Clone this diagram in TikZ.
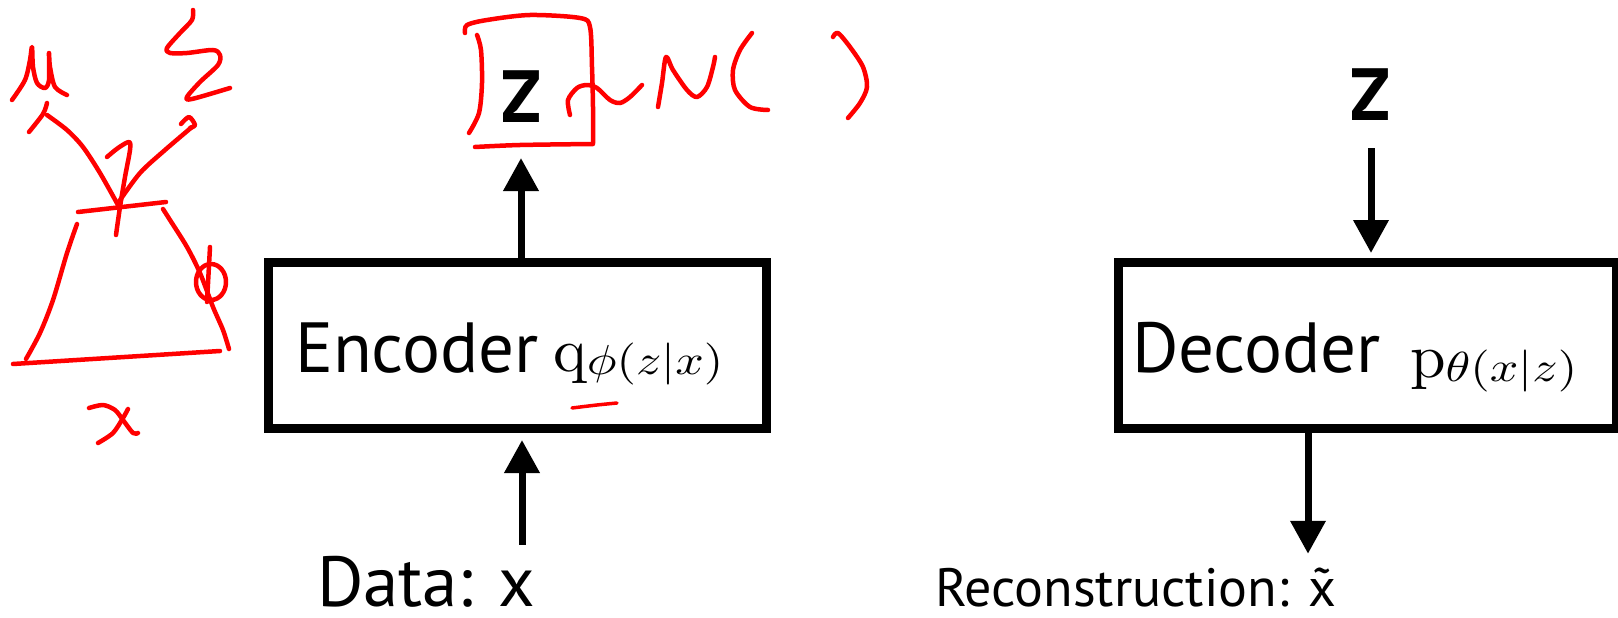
\documentclass[tikz,border=0pt]{standalone}
\usepackage{fontspec}
\setsansfont{PT Sans}
\usepackage{graphicx}
\usetikzlibrary{arrows.meta}
% x with a tilde placed over it
\newcommand\tildex{{\ooalign{x\cr\hidewidth\char"02DC\hidewidth\cr}}}
\begin{document}
\begin{tikzpicture}[x=1pt,y=-1pt,
  box/.style={draw=black, line width=9pt, minimum width=498pt, minimum height=166pt, inner sep=0pt, outer sep=0pt},
  word/.style={inner sep=0pt, outer sep=0pt, font=\sffamily\fontsize{71}{80}\selectfont},
  smallword/.style={inner sep=0pt, outer sep=0pt, font=\sffamily\fontsize{54}{60}\selectfont},
  zlab/.style={inner sep=0pt, outer sep=0pt, font=\sffamily\bfseries\fontsize{74}{80}\selectfont},
  mathlab/.style={inner sep=0pt, outer sep=0pt},
  arr/.style={line width=7pt, -{Triangle[width=34pt,length=33pt]}},
  ink/.style={draw=red, line width=4.5pt, line cap=round, line join=round},
]
\useasboundingbox (0,0) rectangle (1618,618);
\clip (0,0) rectangle (1618,618);
\fill[white] (0,0) rectangle (1618,618);

% ---------- encoder ----------
\node[box] (enc) at (517,345) {};
\node[word, anchor=base west] (enctxt) at (295,372) {Encoder};
\node[mathlab, anchor=base west] (encq) at (553,371)
  {\scalebox{6.4}[6.2]{$\mathrm{q}$}\raisebox{-3.5pt}{\scalebox{5.0}[4.2]{$\phi(z|x)$}}};
\node[zlab, anchor=base] (zE) at (521,122) {Z};
\node[word, anchor=base west] (data) at (317,606) {Data: x};
\coordinate (inx) at (522,0);
\coordinate (upx) at (521,0);
\draw[arr, shorten <=11pt, shorten >=12pt] (data.north -| inx) -- (enc.south -| inx);
\draw[arr, shorten >=36pt] (enc.north -| upx) -- (zE.south -| upx);

% ---------- decoder ----------
\node[box] (dec) at (1367,345) {};
\node[word, anchor=base west] (dectxt) at (1132,372) {Decoder};
\node[mathlab, anchor=base west] (decp) at (1410,377)
  {\scalebox{6.4}[6.2]{$\mathrm{p}$}\raisebox{-4pt}{\scalebox{5.0}[4.2]{$\theta(x|z)$}}};
\node[zlab, anchor=base] (zD) at (1370,121) {Z};
\node[smallword, anchor=base west] (rec) at (935,606) {Reconstruction: \tildex};
\coordinate (dinx) at (1371,0);
\coordinate (doutx) at (1308,0);
\draw[arr, shorten <=27pt, shorten >=9pt] (zD.south -| dinx) -- (dec.north -| dinx);
\draw[arr, shorten >=14pt] (dec.south -| doutx) -- (rec.north -| doutx);

% ---------- hand-drawn notes ----------
% network sketch
\draw[ink] (78,212) -- (166,202);
\draw[ink] plot[smooth, tension=0.5] coordinates {(77,224) (67,253) (53,300) (40,333) (26,359)};
\draw[ink] (13,364) -- (220,351);
\draw[ink] plot[smooth, tension=0.5] coordinates {(163,209) (170,220) (187,247) (200,273) (213,307) (223,330) (229,349)};
\draw[ink] (210,247) -- (207,302);
\draw[ink] (211,282) ellipse[x radius=15, y radius=18];
\draw[ink] plot[smooth, tension=0.5] coordinates {(107,157) (118,148) (129,142) (130,150) (125,177) (120,207) (116,235)};
% output arrows
\draw[ink] plot[smooth, tension=0.5] coordinates {(118,205) (100,173) (83,147) (67,130) (47,115)};
\draw[ink] plot[smooth, tension=0.5] coordinates {(29,132) (43,114) (47,103)};
\draw[ink] plot[smooth, tension=0.5] coordinates {(118,203) (140,173) (165,150) (192,127)};
\draw[ink] plot[smooth, tension=0.5] coordinates {(181,124) (189,117) (195,125) (190,128)};
% mu
\draw[ink] plot[smooth, tension=0.5] coordinates {(12,100) (25,80) (30,60) (32,47) (33,67) (37,83) (45,88) (49,80) (49,53) (50,67) (55,87) (67,95)};
% sigma
\draw[ink] plot[smooth, tension=0.5] coordinates {(193,10) (192,20) (180,33) (167,48) (170,53) (187,53) (213,50) (220,55) (218,65) (200,82) (187,97) (192,99) (230,88)};
% x
\draw[ink] plot[smooth, tension=0.5] coordinates {(89,408) (103,405) (115,410) (123,420) (133,433) (138,433)};
\draw[ink] plot[smooth, tension=0.5] coordinates {(98,443) (113,433) (123,418) (128,409)};
% box around z and "~ N( )"
\draw[ink] plot[smooth, tension=0.5] coordinates {(465,33) (467,25) (487,20) (530,15) (580,18) (590,27) (592,67) (593,107) (593,143)};
\draw[ink] plot[smooth, tension=0.5] coordinates {(475,147) (520,145) (593,144)};
\draw[ink] plot[smooth, tension=0.5] coordinates {(477,35) (481,50) (482,83) (479,113) (469,133)};
\draw[ink] plot[smooth, tension=0.5] coordinates {(570,115) (568,100) (577,88) (587,85) (597,88) (610,100) (620,103) (630,97) (642,85)};
\draw[ink] plot[smooth, tension=0.5] coordinates {(658,107) (662,83) (666,57) (673,70) (687,90) (697,97) (707,87) (713,67) (715,57)};
\draw[ink] plot[smooth, tension=0.5] coordinates {(752,33) (740,50) (733,70) (735,90) (750,107) (768,110)};
\draw[ink] plot[smooth, tension=0.5] coordinates {(833,37) (838,33) (850,47) (863,67) (867,87) (860,103) (848,118)};
% underline below phi
\draw[ink, line width=3.5pt] plot[smooth, tension=0.5] coordinates {(572,408) (597,405) (617,403)};
\end{tikzpicture}
\end{document}
